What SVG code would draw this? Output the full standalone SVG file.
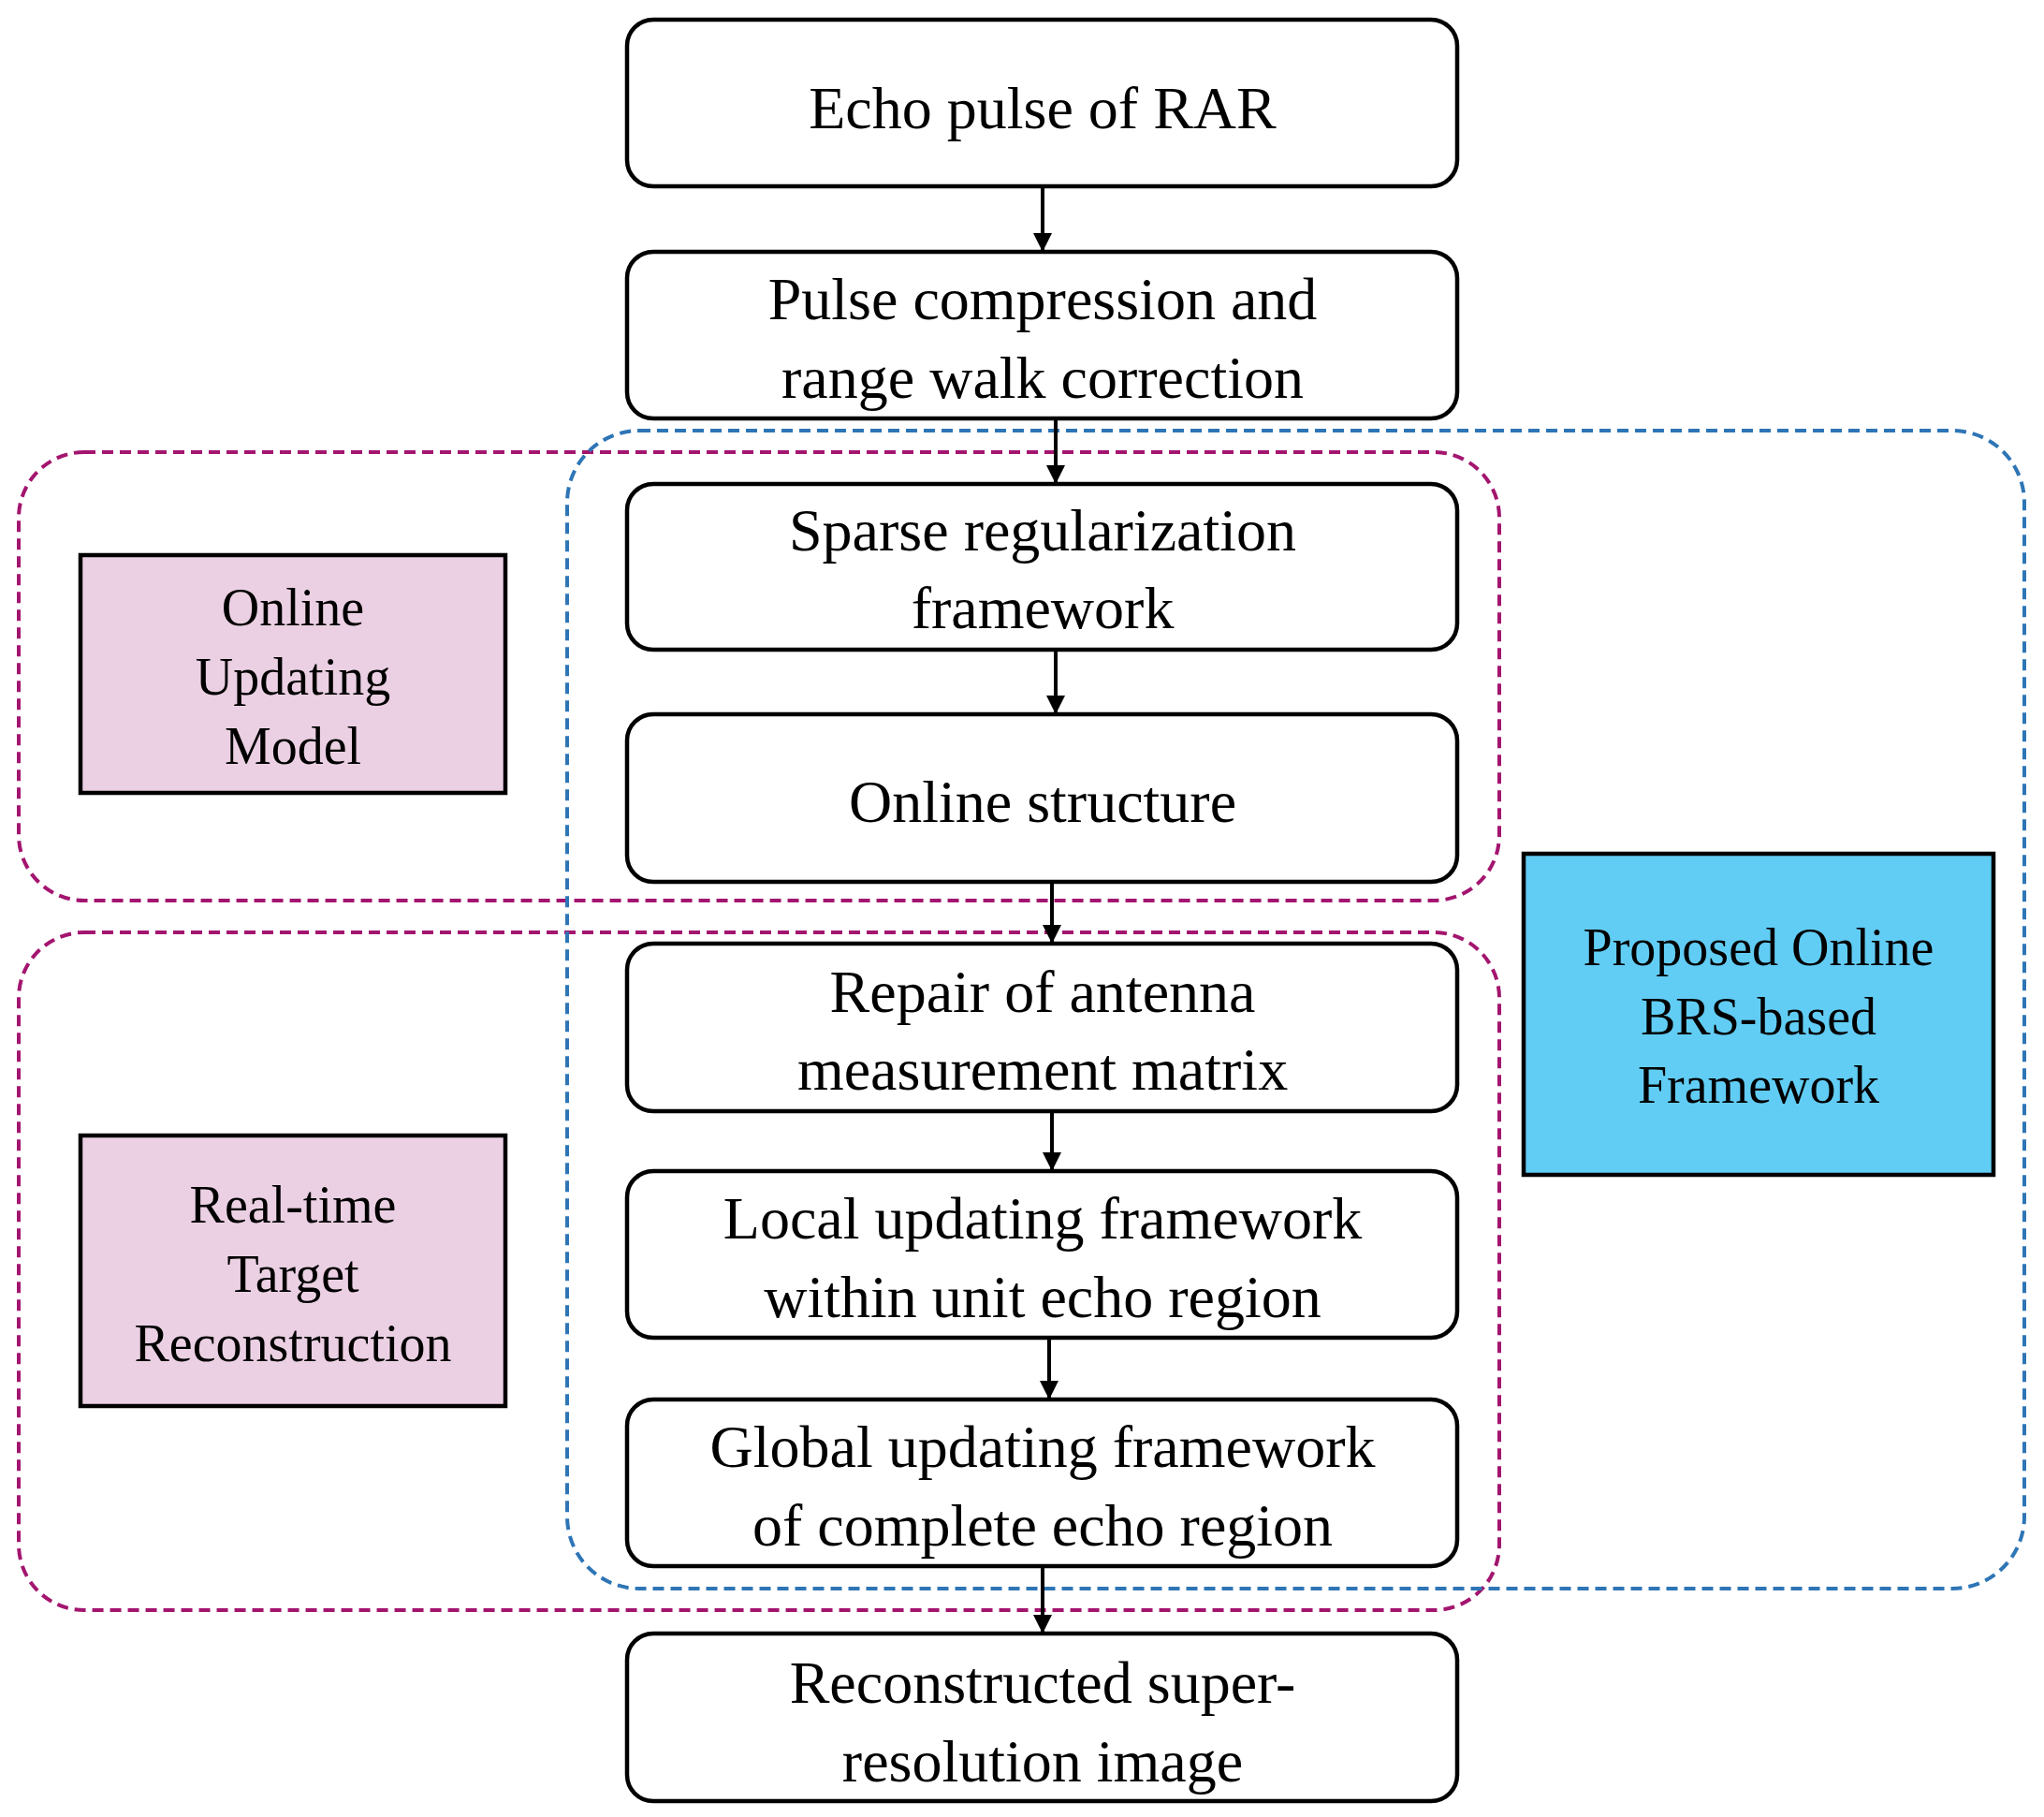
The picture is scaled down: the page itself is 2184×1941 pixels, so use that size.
<svg xmlns="http://www.w3.org/2000/svg" width="2184" height="1941" viewBox="0 0 2184 1941">
<style>
.b{fill:#fff;stroke:#000;stroke-width:4.5}
.t{font-family:"Liberation Serif",serif;font-size:64px;text-anchor:middle;fill:#000}
.s{font-family:"Liberation Serif",serif;font-size:56px;text-anchor:middle;fill:#000}
.m{fill:none;stroke:#a3156f;stroke-width:4;stroke-dasharray:12 7}
.bl{fill:none;stroke:#2e75b6;stroke-width:4;stroke-dasharray:12 7}
.c{stroke:#000;stroke-width:4;fill:none;marker-end:url(#a)}
</style>
<defs><marker id="a" markerUnits="userSpaceOnUse" markerWidth="20" markerHeight="22" refX="20" refY="10" orient="auto"><path d="M0,0 L20,10 L0,20 Z" fill="#000"/></marker></defs>
<rect width="2184" height="1941" fill="#fff"/>
<g id="n1"><rect class="b" x="670" y="21" width="887" height="178" rx="28"/><text class="t" x="1114" y="137">Echo pulse of RAR</text></g>
<g id="n2"><rect class="b" x="670" y="269" width="887" height="178" rx="28"/><text class="t" x="1114" y="341">Pulse compression and</text><text class="t" x="1114" y="425">range walk correction</text></g>
<g id="n3"><rect class="b" x="670" y="517" width="887" height="177" rx="28"/><text class="t" x="1114" y="588">Sparse regularization</text><text class="t" x="1114" y="671">framework</text></g>
<g id="n4"><rect class="b" x="670" y="763" width="887" height="179" rx="28"/><text class="t" x="1114" y="878">Online structure</text></g>
<g id="n5"><rect class="b" x="670" y="1008" width="887" height="179" rx="28"/><text class="t" x="1114" y="1081">Repair of antenna</text><text class="t" x="1114" y="1164">measurement matrix</text></g>
<g id="n6"><rect class="b" x="670" y="1251" width="887" height="178" rx="28"/><text class="t" x="1114" y="1323">Local updating framework</text><text class="t" x="1114" y="1407">within unit echo region</text></g>
<g id="n7"><rect class="b" x="670" y="1495" width="887" height="178" rx="28"/><text class="t" x="1114" y="1567">Global updating framework</text><text class="t" x="1114" y="1651">of complete echo region</text></g>
<g id="n8"><rect class="b" x="670" y="1745" width="887" height="179" rx="28"/><text class="t" x="1114" y="1819">Reconstructed super-</text><text class="t" x="1114" y="1903">resolution image</text></g>
<g id="g1"><rect class="m" x="20" y="483" width="1582" height="479" rx="70"/></g>
<g id="g2"><rect class="m" x="20" y="996" width="1582" height="724" rx="70"/></g>
<g id="g3"><rect class="bl" x="606" y="460" width="1557" height="1237" rx="77"/></g>
<g id="p1"><rect x="86" y="593" width="454" height="254" fill="#ebd0e3" stroke="#000" stroke-width="4.5"/><text class="s" x="313" y="668">Online</text><text class="s" x="313" y="742">Updating</text><text class="s" x="313" y="816">Model</text></g>
<g id="p2"><rect x="86" y="1213" width="454" height="289" fill="#ebd0e3" stroke="#000" stroke-width="4.5"/><text class="s" x="313" y="1306">Real-time</text><text class="s" x="313" y="1380">Target</text><text class="s" x="313" y="1454">Reconstruction</text></g>
<g id="p3"><rect x="1628" y="912" width="502" height="343" fill="#62cdf4" stroke="#000" stroke-width="4.5"/><text class="s" x="1879" y="1031">Proposed Online</text><text class="s" x="1879" y="1105">BRS-based</text><text class="s" x="1879" y="1178">Framework</text></g>
<g id="connectors">
<line class="c" x1="1114" y1="199" x2="1114" y2="269"/>
<line class="c" x1="1128" y1="447" x2="1128" y2="517"/>
<line class="c" x1="1128" y1="694" x2="1128" y2="763"/>
<line class="c" x1="1124" y1="942" x2="1124" y2="1008"/>
<line class="c" x1="1124" y1="1187" x2="1124" y2="1251"/>
<line class="c" x1="1121" y1="1429" x2="1121" y2="1495"/>
<line class="c" x1="1114" y1="1673" x2="1114" y2="1745"/>
</g>
</svg>
